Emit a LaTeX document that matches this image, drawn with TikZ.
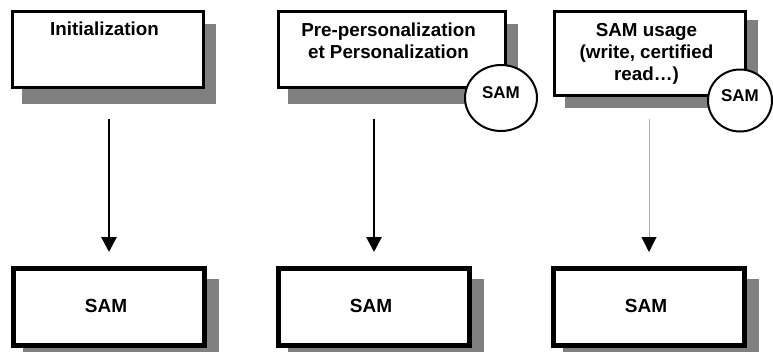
\documentclass[tikz,border=0pt]{standalone}
\usepackage{fontspec}
\setmainfont{Liberation Sans}
\usetikzlibrary{arrows.meta,shapes.geometric,calc,backgrounds}
\definecolor{shadowgray}{RGB}{128,128,128}
\definecolor{linegray}{RGB}{175,175,175}
\tikzset{
  topbox/.style={draw, line width=2.7pt, fill=white, rectangle, inner sep=0pt,
                 minimum width=191.3pt, minimum height=76.3pt},
  botbox/.style={draw, line width=5pt, fill=white, rectangle, inner sep=0pt,
                 minimum width=191pt, minimum height=77pt},
  samcirc/.style={draw, ellipse, line width=2pt, fill=white, inner sep=0pt,
                  text depth=10pt, font=\bfseries\fontsize{17}{19}\selectfont},
  toptext/.style={anchor=north, inner sep=0pt, align=center,
                  font=\bfseries\fontsize{18.8}{22}\selectfont},
  bottext/.style={anchor=base, inner sep=0pt,
                  font=\bfseries\fontsize{19}{22}\selectfont},
  flow/.style={line width=2.8pt, -{Triangle[length=15pt,width=15pt]}},
  thinflow/.style={line width=1pt, draw=linegray, -{Triangle[length=15pt,width=15pt,black]}},
  shadowfill/.style={fill=shadowgray}
}
\begin{document}
\begin{tikzpicture}[x=1pt,y=-1pt]
\useasboundingbox (0,0) rectangle (773,351);

% top boxes
\node[topbox] (init) at (108,49.5) {};
\node[toptext] (initT) at ($(init.north)+(-3.5,12)$) {Initialization};

\node[topbox, minimum width=227.3pt] (perso) at (392,49.5) {};
\node[toptext] (persoT) at ($(perso.north)+(-3.5,13)$) {Pre-personalization\\et Personalization};

\node[topbox, minimum height=84.3pt] (usage) at (650,53.5) {};
\node[toptext] (usageT) at ($(usage.north)+(-3.5,13)$) {SAM usage\\(write, certified\\read…)};

% SAM circles
\node[samcirc, minimum width=72pt, minimum height=66pt] (c2) at (501,98) {SAM};
\node[samcirc, minimum width=64pt, minimum height=62pt] (c3) at (740,100.5) {SAM};

% bottom boxes
\node[botbox] (s1) at (109,307) {};
\node[bottext] (s1T) at ($(s1.center)+(-3,5.5)$) {SAM};
\node[botbox] (s2) at (374,307) {};
\node[bottext] (s2T) at ($(s2.center)+(-3,5.5)$) {SAM};
\node[botbox] (s3) at (649,307) {};
\node[bottext] (s3T) at ($(s3.center)+(-3,5.5)$) {SAM};

% shadows
\begin{scope}[on background layer]
  \fill[shadowfill] ($(init.north west)+(10.5,13.5)$) rectangle ($(init.south east)+(11,15)$);
  \fill[shadowfill] ($(perso.north west)+(11,13.5)$) rectangle ($(perso.south east)+(11,15)$);
  \fill[shadowfill] ($(usage.north west)+(12,10)$) rectangle ($(usage.south east)+(11,11)$);
  \fill[shadowfill] ($(s1.north west)+(12,13)$) rectangle ($(s1.south east)+(12,13)$);
  \fill[shadowfill] ($(s2.north west)+(12,13)$) rectangle ($(s2.south east)+(12,13)$);
  \fill[shadowfill] ($(s3.north west)+(12,13)$) rectangle ($(s3.south east)+(12,13)$);
\end{scope}

% connectors
\draw[flow, shorten <=30pt, shorten >=14pt] (init.south -| s1.north) -- (s1.north);
\draw[flow, shorten <=30pt, shorten >=14pt] (perso.south -| s2.north) -- (s2.north);
\draw[thinflow, shorten <=22pt, shorten >=14pt] (usage.south -| s3.north) -- (s3.north);
\end{tikzpicture}
\end{document}
